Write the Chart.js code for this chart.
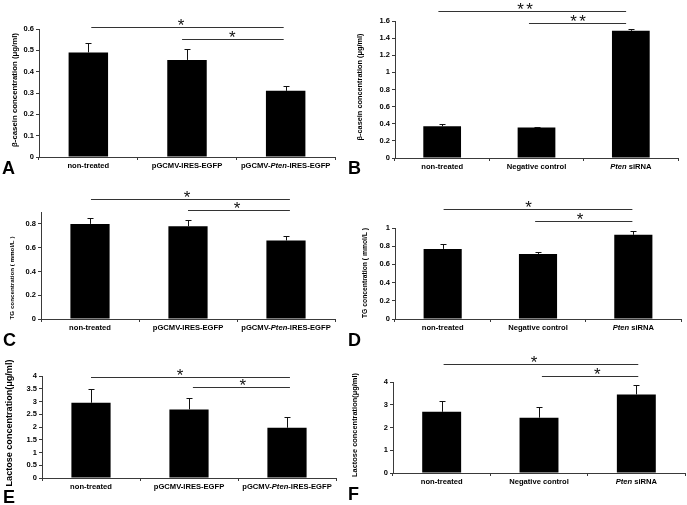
<!DOCTYPE html>
<html><head><meta charset="utf-8">
<script src="https://cdn.jsdelivr.net/npm/chart.js@4"></script>
<style>
html,body{margin:0;padding:0;background:#fff;}
#fig{position:relative;width:687px;height:505px;overflow:hidden;background:#fff;}
#fig canvas{position:absolute;}
</style></head><body><div id="fig"></div>
<script>
// ---------- DATA ----------
const categoriesVector = ["non-treated", "pGCMV-IRES-EGFP", "pGCMV-Pten-IRES-EGFP"];
const categoriesSiRNA = ["non-treated", "Negative control", "Pten siRNA"];

const betaCaseinVector = [0.49, 0.455, 0.31];
const betaCaseinVectorErr = [0.045, 0.05, 0.025];
const betaCaseinSiRNA = [0.37, 0.355, 1.485];
const betaCaseinSiRNAErr = [0.022, 0.012, 0.025];
const tgVector = [0.80, 0.78, 0.66];
const tgVectorErr = [0.05, 0.055, 0.035];
const tgSiRNA = [0.77, 0.715, 0.925];
const tgSiRNAErr = [0.055, 0.025, 0.045];
const lactoseVector = [2.95, 2.69, 1.97];
const lactoseVectorErr = [0.53, 0.45, 0.42];
const lactoseSiRNA = [2.69, 2.43, 3.45];
const lactoseSiRNAErr = [0.47, 0.48, 0.43];

const yTicksA = [0, 0.1, 0.2, 0.3, 0.4, 0.5, 0.6];
const yTicksB = [0, 0.2, 0.4, 0.6, 0.8, 1, 1.2, 1.4, 1.6];
const yTicksC = [0, 0.1, 0.2, 0.3, 0.4, 0.5, 0.6, 0.7, 0.8, 0.9];
const yTicksD = [0, 0.2, 0.4, 0.6, 0.8, 1];
const yTicksE = [0, 0.5, 1, 1.5, 2, 2.5, 3, 3.5, 4];
const yTicksF = [0, 1, 2, 3, 4];

const titleBetaCasein = "β-casein concentration (μg/ml)";
const titleTG = "TG concentration ( mmol/L )";
const titleLactose = "Lactose concentration(μg/ml)";

// significance brackets (category index range, value level, marker)
const sigA = [{from:0.03,to:1.98,y:0.61,at:0.94,mark:"*"},{from:0.95,to:1.98,y:0.555,at:1.46,mark:"*"}];
const sigB = [{from:-0.04,to:1.95,y:1.717,at:0.88,mark:"**"},{from:0.92,to:1.95,y:1.577,at:1.44,mark:"**"}];
const sigC = [{from:0.01,to:2.04,y:1.01,at:0.99,mark:"*"},{from:1.0,to:2.04,y:0.917,at:1.5,mark:"*"}];
const sigD = [{from:0.01,to:1.99,y:1.209,at:0.9,mark:"*"},{from:0.97,to:1.99,y:1.077,at:1.44,mark:"*"}];
const sigE = [{from:0.0,to:2.03,y:3.96,at:0.91,mark:"*"},{from:1.04,to:2.03,y:3.57,at:1.55,mark:"*"}];
const sigF = [{from:0.02,to:2.02,y:4.79,at:0.95,mark:"*"},{from:1.03,to:2.02,y:4.26,at:1.6,mark:"*"}];

// ---------- LAYOUT / STYLE ----------
const FONT = '"Liberation Sans", Arial, Helvetica, sans-serif';
const AXIS_COLOR = '#3a3a3a';

const panels = [
  {letter:'A', cats:categoriesVector, values:betaCaseinVector, errors:betaCaseinVectorErr, ticks:yTicksA, title:titleBetaCasein, sig:sigA,
   box:{x:0,y:0,w:343,h:178}, area:{l:39,t:29,r:335,b:157}, letterPos:{x:2,y:174}, titlePos:{x:15,y:90,w:114}},
  {letter:'B', cats:categoriesSiRNA, values:betaCaseinSiRNA, errors:betaCaseinSiRNAErr, ticks:yTicksB, title:titleBetaCasein, sig:sigB,
   box:{x:345,y:0,w:342,h:178}, area:{l:395,t:21,r:678,b:158}, letterPos:{x:348,y:174}, titlePos:{x:360,y:87,w:107}},
  {letter:'C', cats:categoriesVector, values:tgVector, errors:tgVectorErr, ticks:yTicksC, title:titleTG, sig:sigC,
   box:{x:0,y:170,w:343,h:180}, area:{l:41,t:212,r:335,b:319}, letterPos:{x:3,y:346}, titlePos:{x:12,y:278,w:83}},
  {letter:'D', cats:categoriesSiRNA, values:tgSiRNA, errors:tgSiRNAErr, ticks:yTicksD, title:titleTG, sig:sigD,
   box:{x:345,y:170,w:342,h:180}, area:{l:395,t:228,r:681,b:319}, letterPos:{x:348,y:346}, titlePos:{x:365,y:273,w:90}},
  {letter:'E', cats:categoriesVector, values:lactoseVector, errors:lactoseVectorErr, ticks:yTicksE, title:titleLactose, sig:sigE,
   box:{x:0,y:335,w:343,h:170}, area:{l:42,t:376,r:336,b:478}, letterPos:{x:3,y:503}, titlePos:{x:9,y:423,w:127}},
  {letter:'F', cats:categoriesSiRNA, values:lactoseSiRNA, errors:lactoseSiRNAErr, ticks:yTicksF, title:titleLactose, sig:sigF,
   box:{x:345,y:335,w:342,h:170}, area:{l:393,t:382,r:685,b:473}, letterPos:{x:348,y:500}, titlePos:{x:355,y:425,w:104}}
];

function drawMixed(ctx, text, cx, cy, size) {
  const parts = text.split(/(Pten)/).filter(s => s.length);
  const fonts = parts.map(p => (p === 'Pten' ? 'italic bold ' : 'bold ') + size + 'px ' + FONT);
  let total = 0;
  const widths = parts.map((p, i) => { ctx.font = fonts[i]; const w = ctx.measureText(p).width; total += w; return w; });
  let x = cx - total / 2;
  ctx.textBaseline = 'middle'; ctx.textAlign = 'left'; ctx.fillStyle = '#000';
  parts.forEach((p, i) => { ctx.font = fonts[i]; ctx.fillText(p, x, cy); x += widths[i]; });
}

function makePlugin(p) {
  const ox = p.box.x, oy = p.box.y;
  return {
    id: 'panel' + p.letter,
    afterDatasetsDraw(chart) {
      const ctx = chart.ctx, ys = chart.scales.y;
      const meta = chart.getDatasetMeta(0);
      ctx.save();
      ctx.strokeStyle = '#111'; ctx.lineWidth = 1;
      p.values.forEach((v, i) => {
        const x = Math.round(meta.data[i].x) + 0.5;
        const y0 = ys.getPixelForValue(v);
        const y1 = Math.round(ys.getPixelForValue(v + p.errors[i])) + 0.5;
        ctx.beginPath();
        ctx.moveTo(x, y0); ctx.lineTo(x, y1);
        ctx.moveTo(x - 3, y1); ctx.lineTo(x + 3, y1);
        ctx.stroke();
      });
      ctx.restore();
    },
    afterDraw(chart) {
      const ctx = chart.ctx, xs = chart.scales.x, ys = chart.scales.y;
      ctx.save();
      // category labels
      p.cats.forEach((c, i) => drawMixed(ctx, c, xs.getPixelForValue(i), chart.chartArea.bottom + 9, 7.6));
      // significance brackets
      ctx.strokeStyle = '#333'; ctx.lineWidth = 1;
      p.sig.forEach(s => {
        const y = Math.round(ys.getPixelForValue(s.y)) + 0.5;
        ctx.beginPath();
        ctx.moveTo(xs.getPixelForValue(s.from), y);
        ctx.lineTo(xs.getPixelForValue(s.to), y);
        ctx.stroke();
        ctx.font = '17px ' + FONT; ctx.fillStyle = '#111';
        ctx.textAlign = 'center'; ctx.textBaseline = 'alphabetic';
        const m = ctx.measureText('*');
        const base = (y - 6) + (m.actualBoundingBoxAscent - m.actualBoundingBoxDescent) / 2;
        const chars = s.mark.split('');
        const cx = xs.getPixelForValue(s.at);
        const step = 9;
        chars.forEach((ch, k) => ctx.fillText(ch, cx + (k - (chars.length - 1) / 2) * step, base));
      });
      // y-axis title
      ctx.font = 'bold 10px ' + FONT;
      const w10 = ctx.measureText(p.title).width;
      const fs = 10 * p.titlePos.w / w10;
      ctx.font = 'bold ' + fs.toFixed(2) + 'px ' + FONT;
      ctx.translate(p.titlePos.x - ox, p.titlePos.y - oy);
      ctx.rotate(-Math.PI / 2);
      ctx.textAlign = 'center'; ctx.textBaseline = 'middle'; ctx.fillStyle = '#000';
      ctx.fillText(p.title, 0, 0);
      ctx.setTransform(1, 0, 0, 1, 0, 0);
      // panel letter
      ctx.font = 'bold 18px ' + FONT;
      ctx.textAlign = 'left'; ctx.textBaseline = 'alphabetic'; ctx.fillStyle = '#000';
      ctx.fillText(p.letter, p.letterPos.x - ox, p.letterPos.y - oy);
      ctx.restore();
    }
  };
}

const fig = document.getElementById('fig');
panels.forEach(p => {
  const c = document.createElement('canvas');
  c.width = p.box.w; c.height = p.box.h;
  c.style.left = p.box.x + 'px'; c.style.top = p.box.y + 'px';
  c.style.width = p.box.w + 'px'; c.style.height = p.box.h + 'px';
  fig.appendChild(c);
  const a = p.area, b = p.box;
  new Chart(c, {
    type: 'bar',
    data: { labels: p.cats, datasets: [{ data: p.values, backgroundColor: '#000', borderWidth: 0, barPercentage: 0.4, categoryPercentage: 1 }] },
    options: {
      responsive: false, animation: false, devicePixelRatio: 1,
      layout: { padding: { left: 0, bottom: 0, top: a.t - b.y, right: b.x + b.w - a.r } },
      plugins: { legend: { display: false }, tooltip: { enabled: false } },
      scales: {
        x: {
          afterFit: s => { s.height = b.y + b.h - a.b; },
          ticks: { display: false },
          grid: { drawOnChartArea: false, drawTicks: true, tickLength: 3, color: AXIS_COLOR, offset: true },
          border: { color: AXIS_COLOR, width: 1 }
        },
        y: {
          min: 0, max: p.ticks[p.ticks.length - 1],
          afterBuildTicks: s => { s.ticks = p.ticks.map(v => ({ value: v })); },
          afterFit: s => { s.width = a.l - b.x; },
          ticks: { callback: v => String(v), font: { family: FONT, size: 7.5, weight: 'bold' }, color: '#000', padding: 2 },
          grid: { drawOnChartArea: false, drawTicks: true, tickLength: 3, color: AXIS_COLOR },
          border: { color: AXIS_COLOR, width: 1 }
        }
      }
    },
    plugins: [makePlugin(p)]
  });
});
</script></body></html>
